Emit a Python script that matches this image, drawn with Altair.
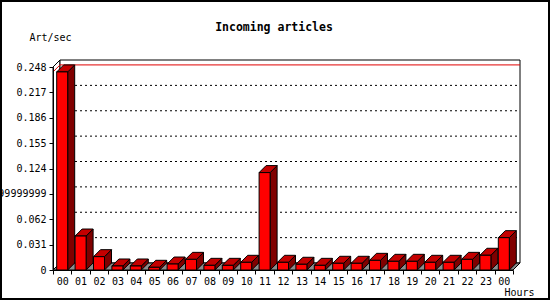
import altair as alt
import pandas as pd

# ---- data ----
hour_labels = ["00", "01", "02", "03", "04", "05", "06", "07", "08", "09", "10", "11",
               "12", "13", "14", "15", "16", "17", "18", "19", "20", "21", "22", "23", "00"]
art_per_sec = [0.242, 0.0415, 0.0163, 0.0049, 0.0049, 0.0033, 0.0073, 0.013, 0.0057, 0.0057,
               0.0094, 0.119, 0.0094, 0.007, 0.0057, 0.0082, 0.0082, 0.0118, 0.0106, 0.0106,
               0.0094, 0.0094, 0.013, 0.018, 0.0395]
y_tick_values = [0, 0.031, 0.062, 0.093, 0.124, 0.155, 0.186, 0.217, 0.248]
y_tick_labels = ["0", "0.031", "0.062", "0.09299999999999999", "0.124", "0.155", "0.186", "0.217", "0.248"]

# ---- geometry (pixels) ----
W, H = 460, 203
N = len(hour_labels)
XMIN, XMAX = -0.5, N - 0.5
YMAX = 0.248
px_x = W / (XMAX - XMIN)
px_y = H / YMAX
D = 7
dx = D / px_x
dy = D / px_y
hw = 5.5 / px_x

FONT = "DejaVu Sans Mono"

xs = alt.Scale(domain=[XMIN, XMAX], nice=False, zero=False)
ys = alt.Scale(domain=[0, YMAX], nice=False, zero=False)

x_tick_vals = [XMIN + k for k in range(N + 1)]
x_label_expr = "datum.value < %s ? [%s][round(datum.value + 0.5)] : ''" % (
    N - 0.5, ",".join("'%s'" % s for s in hour_labels))
y_label_expr = "[%s][round(datum.value / 0.031)]" % ",".join("'%s'" % s for s in y_tick_labels)

x_axis = alt.Axis(
    values=x_tick_vals, labelExpr=x_label_expr, labelOffset=px_x / 2,
    labelFlush=False, labelOverlap=False, labelBound=False, zindex=1,
    tickSize=4, tickColor="black", domainColor="black", labelColor="black",
    labelFont=FONT, labelFontSize=10, labelPadding=2, grid=False,
    title="Hours", titleFont=FONT, titleFontSize=10, titleFontWeight="normal",
    titleColor="black", titleX=481, titleY=22, titleAlign="right",
    titleBaseline="middle")
y_axis = alt.Axis(
    values=y_tick_values, labelExpr=y_label_expr, zindex=1,
    labelOverlap=False, labelFlush=False, labelBound=False, labelLimit=400,
    tickSize=4, tickColor="black", domainColor="black", labelColor="black",
    labelFont=FONT, labelFontSize=10, labelPadding=3, grid=False,
    title="Art/sec", titleFont=FONT, titleFontSize=10, titleFontWeight="normal",
    titleColor="black", titleAngle=0, titleX=-3, titleY=-30, titleAlign="center",
    titleBaseline="middle")


def X(f):
    return alt.X(f, type="quantitative", scale=xs, axis=x_axis)


def Y(f):
    return alt.Y(f, type="quantitative", scale=ys, axis=y_axis)


bars = pd.DataFrame({"idx": list(range(N)), "v": art_per_sec})
bars["x1"] = bars["idx"] - hw
bars["x2"] = bars["idx"] + hw
bars["y0"] = 0.0

side_rows, top_rows = [], []
for i, v in enumerate(art_per_sec):
    side_rows.append({"idx": i, "x": i + hw, "y": v, "y2": 0.0})
    side_rows.append({"idx": i, "x": i + hw + dx, "y": v + dy, "y2": dy})
    top_rows.append({"idx": i, "y": v, "x": i - hw, "x2": i + hw})
    top_rows.append({"idx": i, "y": v + dy, "x": i - hw + dx, "x2": i + hw + dx})
side = pd.DataFrame(side_rows)
top = pd.DataFrame(top_rows)

# outer frame (expressed in the shared scales' units)
fr = pd.DataFrame({"x": [XMIN - 52 / px_x], "x2": [XMIN + 496 / px_x],
                   "y": [YMAX + 66 / px_y], "y2": [YMAX - 232 / px_y]})
frame = alt.Chart(fr).mark_rect(fillOpacity=0, stroke="black", strokeWidth=2).encode(
    x=X("x"), x2="x2", y=Y("y"), y2="y2")

# left wall
lw = pd.DataFrame({"x": [XMIN, XMIN + dx], "y": [YMAX, YMAX + dy], "y2": [0.0, dy]})
left_wall = alt.Chart(lw).mark_area(orient="vertical", fill="white", stroke="black",
                                    strokeWidth=1).encode(x=X("x"), y=Y("y"), y2="y2")

# back wall
bw = pd.DataFrame({"x": [XMIN + dx], "x2": [XMAX + dx], "y": [dy], "y2": [YMAX + dy]})
back_wall = alt.Chart(bw).mark_rect(fill="white", stroke="black", strokeWidth=1).encode(
    x=X("x"), x2="x2", y=Y("y"), y2="y2")

# grid on the back wall
gd = pd.DataFrame({"y": [v + dy for v in y_tick_values[1:-1]],
                   "x": XMIN + dx, "x2": XMAX + dx})
grid = alt.Chart(gd).mark_rule(color="black", strokeWidth=1, strokeDash=[2, 3]).encode(
    x=X("x"), x2="x2", y=Y("y"))

# max line (red)
vmax = max(art_per_sec)
mx = pd.DataFrame({"y": [vmax + dy], "x": [XMIN + dx], "x2": [XMAX + dx]})
max_back = alt.Chart(mx).mark_rule(color="#e00000", strokeWidth=1).encode(
    x=X("x"), x2="x2", y=Y("y"))
ml = pd.DataFrame({"x": [XMIN, XMIN + dx], "y": [vmax, vmax + dy]})
max_left = alt.Chart(ml).mark_line(color="#e00000", strokeWidth=1).encode(x=X("x"), y=Y("y"))

# floor
fl = pd.DataFrame({"y": [0.0, dy], "x": [XMIN, XMIN + dx], "x2": [XMAX, XMAX + dx]})
floor = alt.Chart(fl).mark_area(orient="horizontal", fill="#8c8c8c", stroke="black",
                                strokeWidth=1).encode(y=Y("y"), x=X("x"), x2="x2")

# bar faces
side_face = alt.Chart(side).mark_area(orient="vertical", fill="#800000", stroke="black",
                                      strokeWidth=1).encode(
    x=X("x"), y=Y("y"), y2="y2", detail="idx:N")
top_face = alt.Chart(top).mark_area(orient="horizontal", fill="#c40000", stroke="black",
                                    strokeWidth=1).encode(
    y=Y("y"), x=X("x"), x2="x2", detail="idx:N")
front_face = alt.Chart(bars).mark_rect(fill="#ff0000", stroke="black", strokeWidth=1).encode(
    x=X("x1"), x2="x2", y=Y("v"), y2="y0")

chart = alt.layer(
    frame, left_wall, back_wall, grid, max_back, max_left, floor,
    side_face, top_face, front_face
).properties(
    width=W, height=H,
    title=alt.TitleParams("Incoming articles", font=FONT, fontSize=11.5, fontWeight="bold",
                          color="black", anchor="middle", dx=-9, offset=-39, frame="group",
                          baseline="middle"),
    autosize=alt.AutoSizeParams(type="none"),
    padding={"left": 53, "top": 67, "right": 37, "bottom": 30},
).configure_view(stroke=None).configure(background="white")

chart.save("out.html", embed_options={"renderer": "svg", "actions": False})
